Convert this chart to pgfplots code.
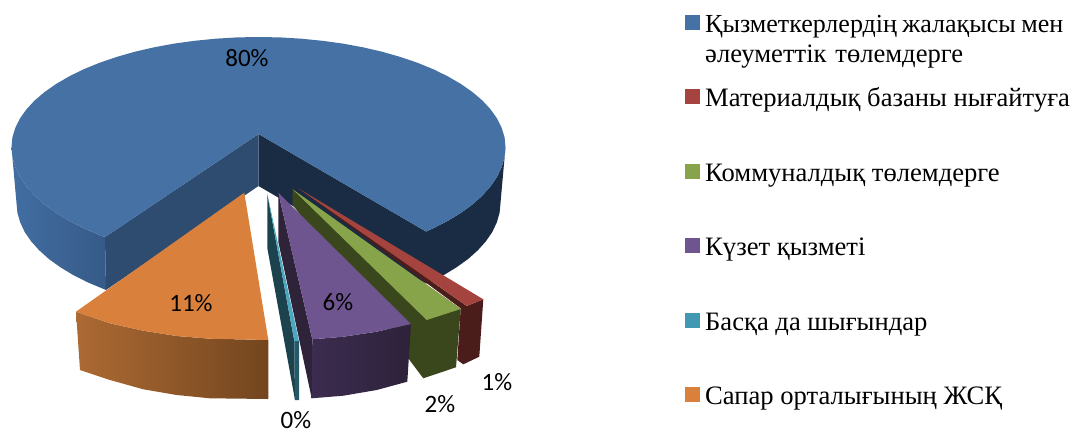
\documentclass[border=0pt]{standalone}
\usepackage{fontspec}
\setmainfont{Liberation Serif}
\newfontfamily\lblfont{Carlito}
\usepackage{pgfplots}
\pgfplotsset{compat=1.18}
\definecolor{bluetop}{RGB}{69,113,165}
\definecolor{bluecutl}{RGB}{46,76,112}
\definecolor{bluecutr}{RGB}{26,44,68}
\definecolor{bluewalla}{RGB}{66,110,162}
\definecolor{bluewallb}{RGB}{54,90,136}
\definecolor{redtop}{RGB}{165,68,63}
\definecolor{reddark}{RGB}{74,28,26}
\definecolor{greentop}{RGB}{136,164,74}
\definecolor{greendark}{RGB}{58,71,28}
\definecolor{purptop}{RGB}{111,85,144}
\definecolor{purpcut}{RGB}{46,35,57}
\definecolor{purpa}{RGB}{60,44,80}
\definecolor{purpb}{RGB}{45,34,57}
\definecolor{tealtop}{RGB}{75,166,192}
\definecolor{tealleg}{RGB}{65,152,178}
\definecolor{tealcut}{RGB}{28,67,77}
\definecolor{tealfront}{RGB}{37,89,106}
\definecolor{orgtop}{RGB}{217,129,60}
\definecolor{orga}{RGB}{172,106,52}
\definecolor{orgb}{RGB}{115,69,30}
\newcommand{\lbl}[1]{\fontsize{25}{30}\selectfont\lblfont #1}
\newcommand{\leg}[1]{\fontsize{26.6}{30}\selectfont #1}

\begin{document}
\begin{tikzpicture}
\begin{axis}[
  scale only axis, width=1079pt, height=432pt,
  xmin=0, xmax=1079, ymin=0, ymax=432,
  y dir=reverse, hide axis, clip=false,
]
% keeps the page as large as the reference
\path (axis cs:0,0) rectangle (axis cs:1079,432);
% blue slice: cut wall on the right with the outer wall
\addplot[fill=bluecutr, draw=none] coordinates {
  (258.5,134) (426,231.5) (433.2,228.3) (447.7,220.9) (460.8,213) (472.4,204.5)
  (482.4,195.6) (490.6,186.3) (497.1,176.8) (501.7,167) (504.6,157) (505.5,147)
  (500.5,203) (499.6,212.8) (496.8,222.4) (492.3,232) (485.9,241.3) (477.8,250.3)
  (468.1,259) (456.7,267.2) (443.9,275) (429.6,282.2) (426,283.5) (258.5,186)
} --cycle;
% outer wall on the left
\addplot[left color=bluewalla, right color=bluewallb, draw=none] coordinates {
  (11.5,147) (12.4,157) (15.3,167) (19.9,176.8) (26.4,186.3) (34.6,195.6)
  (44.6,204.5) (56.2,213) (69.3,220.9) (83.8,228.3) (99.7,235.1) (105,237)
  (106,290) (87.4,282.2) (73.1,275) (60.3,267.2) (48.9,259) (39.2,250.3)
  (31.1,241.3) (24.7,232) (20.2,222.4) (17.4,212.8) (16.5,203)
} --cycle;
\addplot[fill=bluecutl, draw=none] coordinates {
  (258.5,134) (105,237) (106,290) (258.5,186)
} --cycle;
% blue top
\addplot[fill=bluetop, draw=none] coordinates {
  (258.5,134) (426,231.5) (433.2,228.3) (447.7,220.9) (460.8,213) (472.4,204.5)
  (482.4,195.6) (490.6,186.3) (497.1,176.8) (501.7,167) (504.6,157) (505.5,147)
  (504.6,137.4) (501.7,127.9) (497.1,118.5) (490.6,109.4) (482.4,100.5) (472.4,92)
  (460.8,83.9) (447.7,76.3) (433.2,69.2) (417.3,62.7) (400.2,56.9) (382,51.7)
  (362.9,47.3) (343,43.6) (322.4,40.8) (301.4,38.7) (280,37.4) (258.5,37)
  (237,37.4) (215.6,38.7) (194.6,40.8) (174,43.6) (154.1,47.3) (135,51.7)
  (116.8,56.9) (99.7,62.7) (83.8,69.2) (69.3,76.3) (56.2,83.9) (44.6,92)
  (34.6,100.5) (26.4,109.4) (19.9,118.5) (15.3,127.9) (12.4,137.4) (11.5,147)
  (12.4,157) (15.3,167) (19.9,176.8) (26.4,186.3) (34.6,195.6) (44.6,204.5)
  (56.2,213) (69.3,220.9) (83.8,228.3) (99.7,235.1) (105,237)
} --cycle;
% red slice
\addplot[fill=reddark, draw=none] coordinates {
  (298.3,188.3) (466.7,306) (483.3,299.3) (479.3,356.7) (463.3,364.3) (457.3,360) (460.7,308.3)
} --cycle;
\addplot[fill=redtop, draw=none] coordinates {
  (298.3,188.3) (466.7,306) (483.3,299.3)
} --cycle;
% green slice
\addplot[fill=greendark, draw=none] coordinates {
  (292.7,189.3) (292.7,205) (423.3,378.3) (456,367.3) (460.7,309)
} --cycle;
\addplot[fill=greentop, draw=none] coordinates {
  (292.7,189.3) (426.7,320) (460.7,309)
} --cycle;
% purple slice
\addplot[fill=purpcut, draw=none] coordinates {
  (278.3,192.7) (278.3,241.7) (311.7,398.3) (312.3,339.3)
} --cycle;
\addplot[left color=purpa, right color=purpb, draw=none] coordinates {
  (312.3,339.3) (343.3,336.7) (376.7,331.7) (411,324) (407.3,381.7)
  (376.7,390) (343.3,395.7) (311.7,398.3)
} --cycle;
\addplot[fill=purptop, draw=none] coordinates {
  (278.3,192.7) (312.3,339.3) (343.3,336.7) (376.7,331.7) (411,324)
} --cycle;
% teal slice
\addplot[fill=tealcut, draw=none] coordinates {
  (267.3,194) (267.3,248) (295,400) (294.3,341)
} --cycle;
\addplot[fill=tealfront, draw=none] coordinates {
  (294.3,341) (299,341) (299,400) (295,400)
} --cycle;
\addplot[fill=tealtop, draw=none] coordinates {
  (267.3,194) (294.3,341) (299,341)
} --cycle;
% orange slice
\addplot[left color=orga, right color=orgb, draw=none] coordinates {
  (76,311.7) (110,323.3) (143.3,330.7) (176.7,336) (210,338.7) (268.3,340)
  (268.3,399) (210,398.3) (176.7,395) (143.3,389.3) (110,380) (80,370)
} --cycle;
\addplot[fill=orgtop, draw=none] coordinates {
  (244.3,192.7) (76,311.7) (110,323.3) (143.3,330.7) (176.7,336) (210,338.7) (268.3,340)
} --cycle;
% value labels
\node at (axis cs:247,58) {\lbl{80\%}};
\node at (axis cs:191,303) {\lbl{11\%}};
\node at (axis cs:338,302) {\lbl{6\%}};
\node at (axis cs:497,382) {\lbl{1\%}};
\node at (axis cs:440,404) {\lbl{2\%}};
\node[inner sep=0pt] at (axis cs:296,420) {\lbl{0\%}};
% legend
\addplot[only marks, mark=square*, mark size=7pt, color=bluetop] coordinates {(692,22)};
\addplot[only marks, mark=square*, mark size=7pt, color=redtop] coordinates {(692,96)};
\addplot[only marks, mark=square*, mark size=7pt, color=greentop] coordinates {(692,171)};
\addplot[only marks, mark=square*, mark size=7pt, color=purptop] coordinates {(692,245)};
\addplot[only marks, mark=square*, mark size=7pt, color=tealleg] coordinates {(692,320)};
\addplot[only marks, mark=square*, mark size=7pt, color=orgtop] coordinates {(692,394)};
\node[anchor=base west, inner sep=0pt] at (axis cs:705,32) {\fontsize{26}{30}\selectfont\hbox to 358pt{Қызметкерлердің\hfil жалақысы\hfil мен}};
\node[anchor=base west, inner sep=0pt] at (axis cs:705,62) {\leg{\hbox to 258pt{әлеуметтік\hfil төлемдерге}}};
\node[anchor=base west, inner sep=0pt] at (axis cs:705,106) {\leg{Материалдық базаны нығайтуға}};
\node[anchor=base west, inner sep=0pt] at (axis cs:705,181) {\leg{Коммуналдық төлемдерге}};
\node[anchor=base west, inner sep=0pt] at (axis cs:705,255) {\leg{Күзет қызметі}};
\node[anchor=base west, inner sep=0pt] at (axis cs:705,330) {\leg{Басқа да шығындар}};
\node[anchor=base west, inner sep=0pt] at (axis cs:705,404) {\leg{Сапар орталығының ЖСҚ}};
\end{axis}
\end{tikzpicture}
\end{document}
